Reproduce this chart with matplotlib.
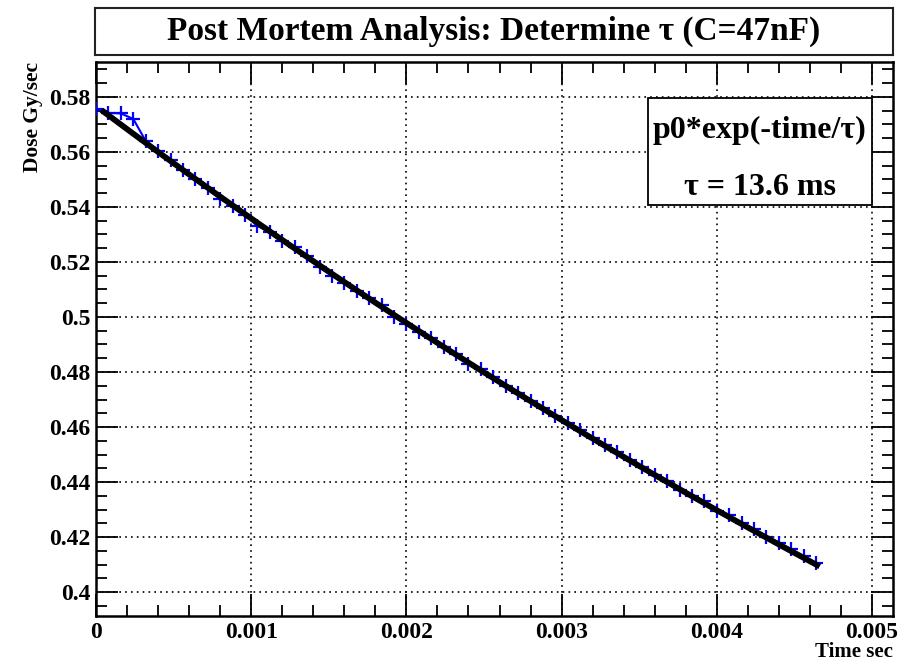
import numpy as np
import matplotlib.pyplot as plt
from matplotlib.ticker import MultipleLocator, FuncFormatter
from matplotlib.patches import Rectangle

# measured dose rate vs. time after the pulse
time_sec = [i * 0.00008 for i in range(59)]
dose = [0.5757, 0.5742, 0.5740, 0.5720, 0.5640, 0.5605, 0.5570, 0.5535,
        0.5500, 0.5468, 0.5430, 0.5405, 0.5372, 0.5330, 0.5310, 0.5275,
        0.5255, 0.5220, 0.5180, 0.5150, 0.5125, 0.5095, 0.5070, 0.5045,
        0.5000, 0.4975, 0.4945, 0.4925, 0.4890, 0.4865, 0.4830, 0.4810,
        0.4780, 0.4750, 0.4725, 0.4695, 0.4670, 0.4640, 0.4615, 0.4590,
        0.4560, 0.4535, 0.4510, 0.4480, 0.4455, 0.4425, 0.4405, 0.4370,
        0.4350, 0.4330, 0.4295, 0.4280, 0.4250, 0.4230, 0.4200, 0.4180,
        0.4155, 0.4130, 0.4105]

# fit result p0*exp(-t/tau)
p0 = 0.5767
tau_ms = 13.6
fit_range = (0.00005, 0.004646)

plt.rcParams['font.family'] = 'Liberation Serif'
plt.rcParams['font.weight'] = 'bold'

fig = plt.figure(figsize=(9.1, 6.7), dpi=100)
ax = fig.add_axes([0.1055, 0.0806, 0.8758, 0.8269])

ax.plot(time_sec, dose, color='blue', lw=1.5, marker='+', ms=10.5, mew=1.6, zorder=3)

t_fit = np.linspace(fit_range[0], fit_range[1], 200)
ax.plot(t_fit, p0 * np.exp(-t_fit / (tau_ms * 1e-3)), color='black', lw=4.2, zorder=4)

ax.set_xlim(0, 0.005135)
ax.set_ylim(0.3913, 0.5927)

ax.xaxis.set_major_locator(MultipleLocator(0.001))
ax.xaxis.set_minor_locator(MultipleLocator(0.0002))
ax.yaxis.set_major_locator(MultipleLocator(0.02))
ax.yaxis.set_minor_locator(MultipleLocator(0.005))
fmt = FuncFormatter(lambda v, pos: '%g' % round(v, 6))
ax.xaxis.set_major_formatter(fmt)
ax.yaxis.set_major_formatter(fmt)

ax.tick_params(which='both', direction='in', top=True, right=True, width=1.3, labelsize=17)
ax.tick_params(which='major', length=16)
ax.tick_params(which='minor', length=8)
ax.tick_params(axis='x', pad=4)
ax.tick_params(axis='y', pad=4)
for s in ax.spines.values():
    s.set_linewidth(1.8)

ax.grid(True, which='major', color='black', lw=1.2, ls=(0, (1, 2.5)))
ax.set_axisbelow(True)

# stats box with the fitted tau
ax.add_patch(Rectangle((0.6926, 0.7419), 0.2811, 0.1931, transform=ax.transAxes,
                       facecolor='white', edgecolor='black', lw=1.3, zorder=5))
ax.text(0.8331, 0.877, 'p0*exp(-time/\u03c4)', transform=ax.transAxes,
        ha='center', va='center', fontsize=23, zorder=6)
ax.text(0.8331, 0.774, '\u03c4 = %.1f ms' % tau_ms, transform=ax.transAxes,
        ha='center', va='center', fontsize=23, zorder=6)

fig.text(0.036, 0.9075, 'Dose Gy/sec', rotation=90, ha='center', va='top', fontsize=15.5)
fig.text(0.9813, 0.027, 'Time sec', ha='right', va='center', fontsize=15)

# title box
tax = fig.add_axes([0.1044, 0.9179, 0.8769, 0.0701])
tax.set_xticks([])
tax.set_yticks([])
for s in tax.spines.values():
    s.set_linewidth(1.5)
    s.set_color('#222222')
tax.text(0.5, 0.5, 'Post Mortem Analysis: Determine \u03c4 (C=47nF)',
         ha='center', va='center', fontsize=24, transform=tax.transAxes)

fig.savefig('out.png', dpi=100)
